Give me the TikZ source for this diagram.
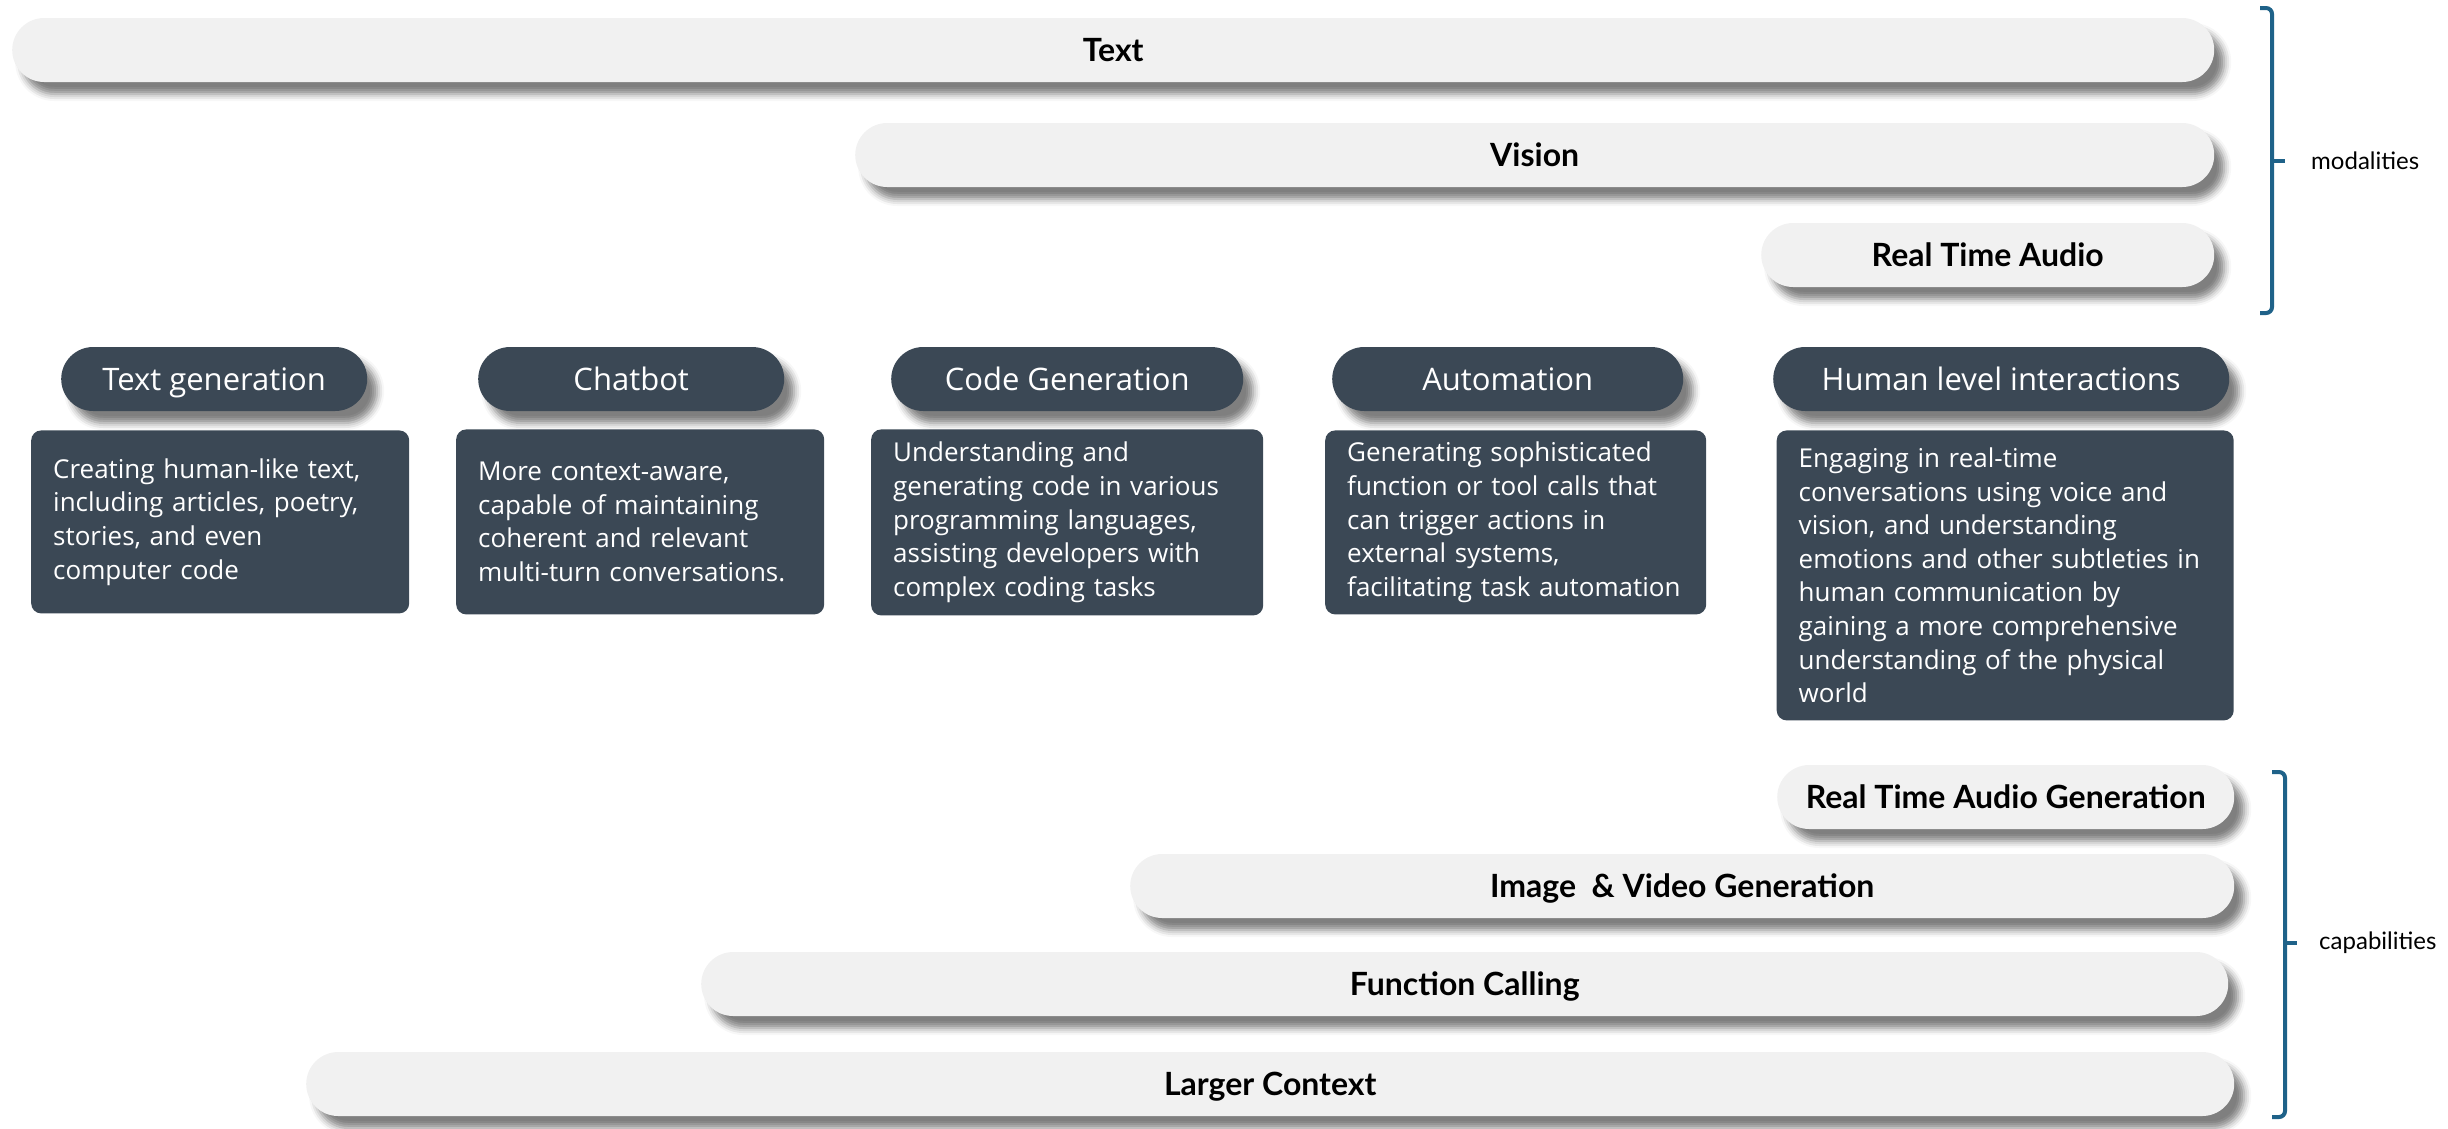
\documentclass[tikz,border=0pt]{standalone}
\usepackage{fontspec}
\setmainfont{Open Sans}
\newfontfamily\latofont{Lato}
\usepackage{tikz}
\usetikzlibrary{positioning, shadows.blur}
\definecolor{barfill}{HTML}{F1F1F1}
\definecolor{slate}{HTML}{3B4855}
\definecolor{braceblue}{HTML}{1F6289}

\tikzset{
  softshadow/.style={blur shadow={shadow xshift=10pt, shadow yshift=-12pt, shadow blur radius=7pt, shadow opacity=50}},
  band/.style={softshadow, fill=barfill, rounded corners=32pt, minimum height=64pt, anchor=west,
    text height=23pt, text depth=0pt, font=\latofont\bfseries\fontsize{32}{38}\selectfont},
  usecase/.style={softshadow, fill=slate, text=white, rounded corners=32pt, minimum height=64pt, anchor=west,
    text height=22pt, text depth=0pt, font=\fontsize{31}{37}\selectfont},
  usebody/.style={fill=slate, text=white, rounded corners=10pt, align=left, inner xsep=22pt,
    font=\fontsize{26}{33.6}\selectfont},
  bracket/.style={draw=braceblue, line width=4pt, rounded corners=6pt},
  bracelabel/.style={font=\latofont\fontsize{24}{28}\selectfont, inner sep=0pt},
}

\begin{document}
\begin{tikzpicture}[x=1pt, y=1pt]
    \useasboundingbox (0,0) rectangle (2448,-1128);

    % modalities
    \node (text) [band, minimum width=2202pt] at (12,-50) {Text};
    \node (vision) [band, minimum width=1359pt] at (855,-155) {Vision};
    \node (audio) [band, minimum width=453pt] at (1761,-255) {Real Time Audio};

    % use cases
    \node (tgen) [usecase, minimum width=306pt] at (61,-379) {Text generation};
    \node (chat) [usecase, minimum width=306pt] at (478,-379) {Chatbot};
    \node (code) [usecase, minimum width=352pt] at (891,-379) {Code Generation};
    \node (auto) [usecase, minimum width=351pt] at (1332,-379) {Automation};
    \node (human) [usecase, minimum width=456pt] at (1773,-379) {Human level interactions};

    \node (tgenbody) [usebody, below=19pt of tgen, xshift=6pt, text width=334pt, minimum height=183pt]
        {Creating human-like text,\\including articles, poetry,\\stories, and even\\computer code};
    \node (chatbody) [usebody, below=18pt of chat, xshift=9pt, text width=324pt, minimum height=185pt]
        {More context-aware,\\capable of maintaining\\coherent and relevant\\multi-turn conversations.};
    \node (codebody) [usebody, below=18pt of code, text width=348pt, minimum height=186pt]
        {Understanding and\\generating code in various\\programming languages,\\assisting developers with\\complex coding tasks};
    \node (autobody) [usebody, below=19pt of auto, xshift=8pt, text width=337pt, minimum height=184pt]
        {Generating sophisticated\\function or tool calls that\\can trigger actions in\\external systems,\\facilitating task automation};
    \node (humanbody) [usebody, below=19pt of human, xshift=4pt, text width=413pt, minimum height=290pt]
        {Engaging in real-time\\conversations using voice and\\vision, and understanding\\emotions and other subtleties in\\human communication by\\gaining a more comprehensive\\understanding of the physical\\world};

    % capabilities
    \node (audiogen) [band, minimum width=457pt] at (1777,-797) {Real Time Audio Generation};
    \node (imagegen) [band, minimum width=1104pt] at (1130,-886) {Image\ \ \& Video Generation};
    \node (funccall) [band, minimum width=1527pt] at (701,-984) {Function Calling};
    \node (context) [band, minimum width=1928pt] at (306,-1084) {Larger Context};

    % braces
    \draw [bracket] (2260,-8) -- (2272,-8) -- (2272,-313) -- (2260,-313);
    \coordinate (modtip) at (2285,-161);
    \draw [bracket] (2272,-161) -- (modtip);
    \node (modalities) [bracelabel, right=26pt of modtip] {modalities};

    \draw [bracket] (2272,-772) -- (2285,-772) -- (2285,-1117) -- (2272,-1117);
    \coordinate (captip) at (2297,-943);
    \draw [bracket] (2285,-943) -- (captip);
    \node (capabilities) [bracelabel, right=22pt of captip] {capabilities};
\end{tikzpicture}
\end{document}
